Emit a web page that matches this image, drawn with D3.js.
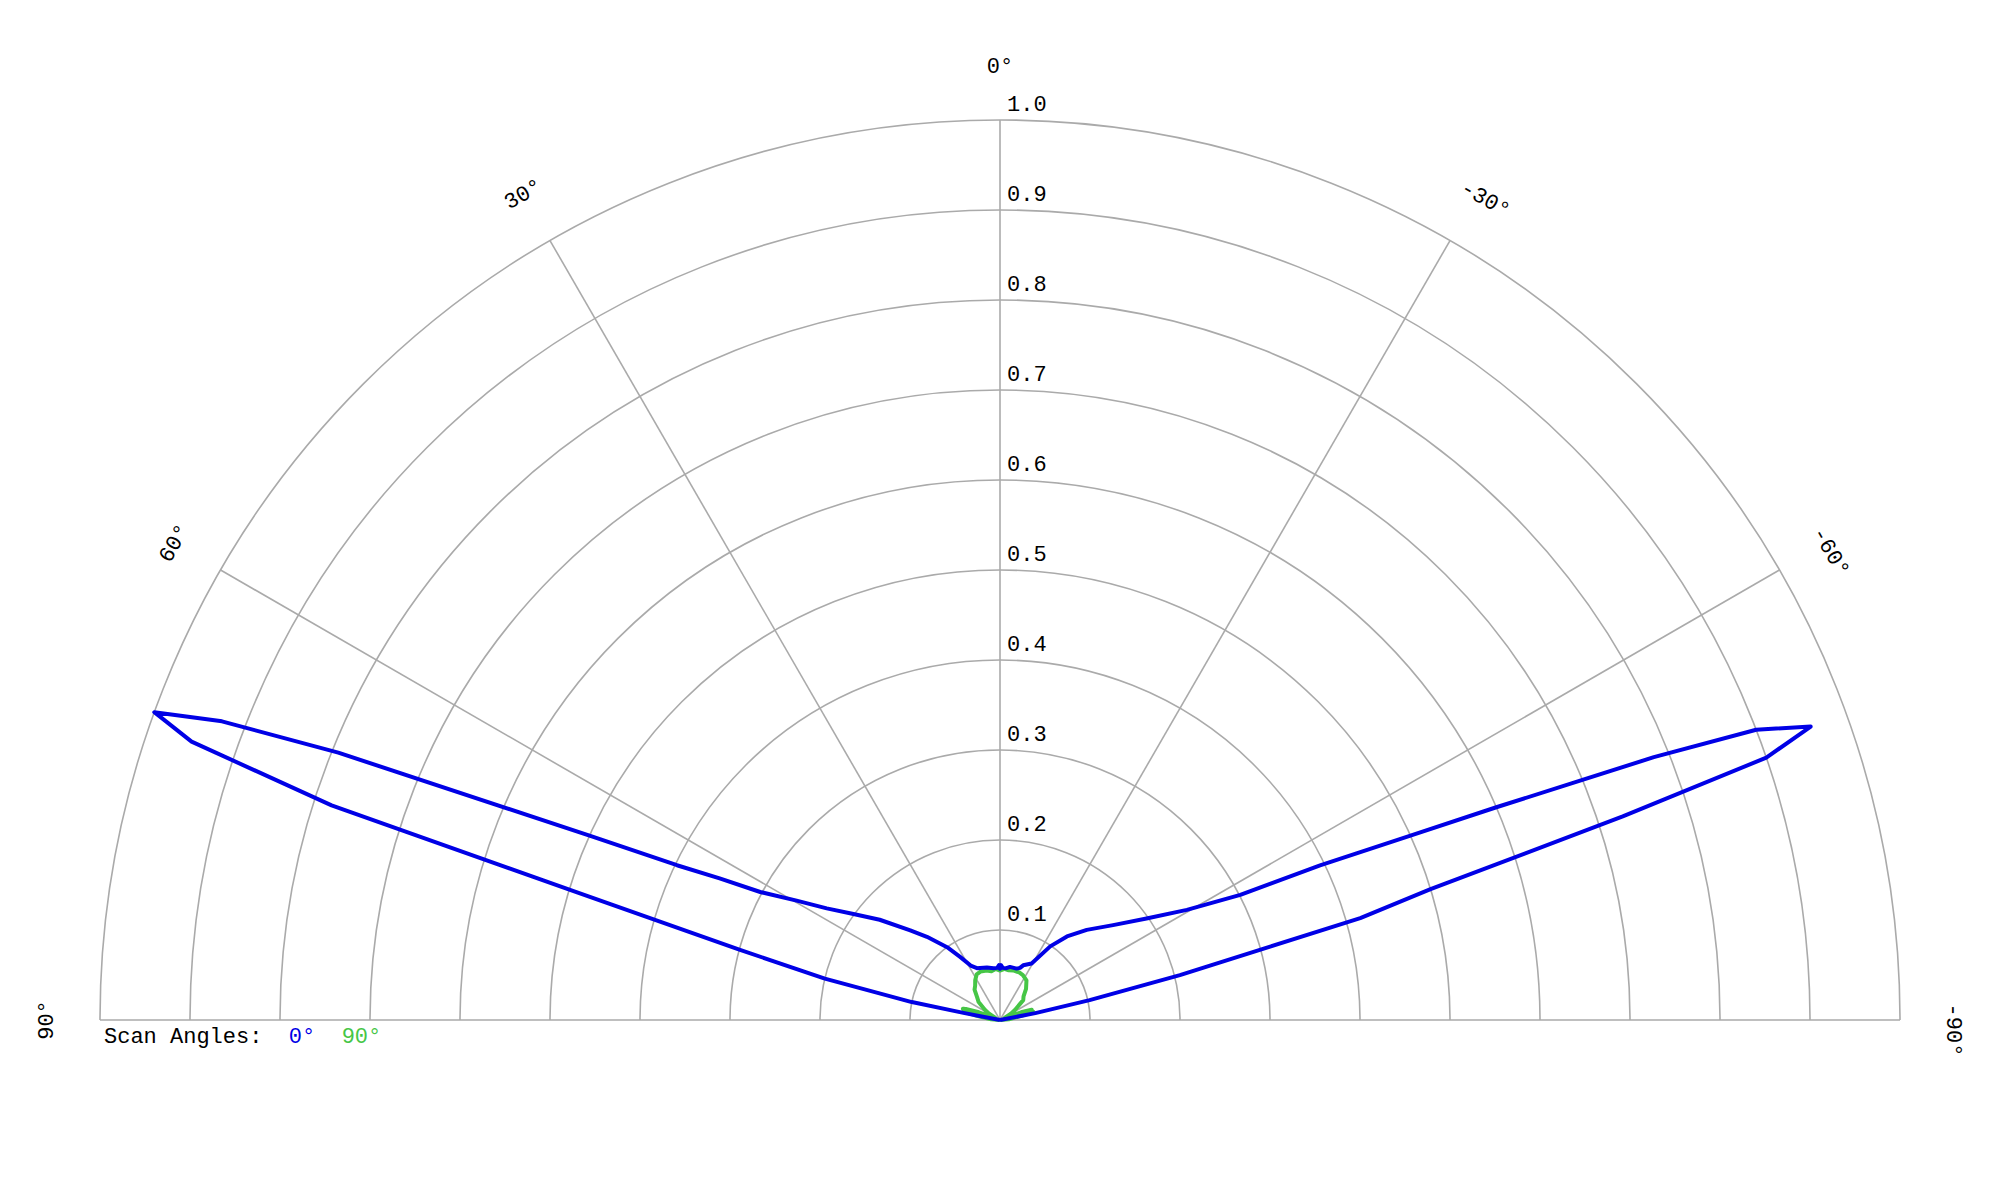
<!DOCTYPE html>
<html>
<head>
<meta charset="utf-8">
<script src="https://cdn.jsdelivr.net/npm/d3@7"></script>
<style>
  html, body { margin: 0; padding: 0; background: #fff; }
  svg { display: block; }
  text { font-family: "Liberation Mono", "DejaVu Sans Mono", monospace; font-size: 22px; fill: #000; }
</style>
</head>
<body>
<svg id="chart" width="2000" height="1200"></svg>
<script>
// ---- data ----
const radialTicks = [0.1, 0.2, 0.3, 0.4, 0.5, 0.6, 0.7, 0.8, 0.9, 1.0];
const angleTicks = [90, 60, 30, 0, -30, -60, -90];

// Scan angle 0° (blue): angle in degrees (positive = left), normalised value
const scan0Angles = [90, 82, 79, 78.5, 77.3, 76.7, 74.9, 73.2, 72.2, 71, 70, 69, 68, 65.8, 64.4, 63.2, 61.9, 59.6, 57.2, 54.1, 50.2, 45, 41.3, 36, 32.3, 28, 24, 21, 14, 7, 3, 1, 0, -1, -3, -7, -10.6, -17.9, -21, -23, -29.2, -34.3, -38.7, -43.9, -50, -55.3, -59.5, -62.5, -64.2, -65.8, -66.8, -67.6, -68.1, -69, -70.1, -71.1, -71.9, -73.1, -74.2, -74.8, -76, -77.5, -79, -82, -90];
const scan0Values = [0, 0, 0.04, 0.10, 0.152, 0.20, 0.30, 0.49, 0.78, 0.95, 1.0, 0.926, 0.793, 0.50, 0.398, 0.349, 0.302, 0.262, 0.229, 0.201, 0.174, 0.141, 0.123, 0.10, 0.083, 0.068, 0.063, 0.062, 0.06, 0.058, 0.058, 0.061, 0.057, 0.061, 0.058, 0.058, 0.06, 0.06, 0.062, 0.066, 0.072, 0.099, 0.119, 0.139, 0.164, 0.198, 0.241, 0.301, 0.395, 0.50, 0.60, 0.70, 0.783, 0.90, 0.958, 0.90, 0.728, 0.50, 0.416, 0.311, 0.206, 0.102, 0.04, 0, 0];

// Scan angle 90° (green)
const scan90Angles = [90, 85, 80, 78, 76, 75, 74, 73, 72, 70, 68, 65, 60, 56, 50, 45, 40, 36, 32, 27, 22, 15, 10, 5, 0, -5, -10, -15, -22, -27, -33.7, -40, -45, -49.4, -56, -60, -65, -68, -70, -72, -72.5, -74, -76, -78, -80, -85, -90];
const scan90Values = [0, 0.01, 0.025, 0.035, 0.04, 0.042, 0.038, 0.043, 0.04, 0.025, 0.008, 0.006, 0.014, 0.02, 0.031, 0.036, 0.044, 0.047, 0.052, 0.057, 0.058, 0.057, 0.055, 0.057, 0.055, 0.057, 0.056, 0.057, 0.057, 0.056, 0.053, 0.045, 0.037, 0.034, 0.02, 0.014, 0.006, 0.008, 0.025, 0.037, 0.037, 0.035, 0.038, 0.03, 0.02, 0.01, 0];

const seriesNames = ["0°", "90°"];
const seriesColors = ["#0000e6", "#46c646"];

// ---- layout ----
const cx = 1000, cy = 1020, R = 900;
const svg = d3.select("#chart");
const g = svg.append("g").attr("transform", `translate(${cx},${cy})`);

const r = d3.scaleLinear().domain([0, 1]).range([0, R]);
const toRad = d => -d * Math.PI / 180; // positive angles go counter-clockwise (left)

// rings (semicircles)
const arc = d3.arc().startAngle(-Math.PI / 2).endAngle(Math.PI / 2);
g.selectAll("path.ring").data(radialTicks).enter().append("path")
  .attr("class", "ring")
  .attr("d", d => arc({innerRadius: r(d), outerRadius: r(d)}))
  .attr("fill", "none").attr("stroke", "#aaa").attr("stroke-width", 1.6);

// spokes
g.selectAll("line.spoke").data(angleTicks).enter().append("line")
  .attr("class", "spoke")
  .attr("x1", 0).attr("y1", 0)
  .attr("x2", d => r(1) * Math.sin(toRad(d)))
  .attr("y2", d => -r(1) * Math.cos(toRad(d)))
  .attr("stroke", "#aaa").attr("stroke-width", 1.6);

// radial labels
g.selectAll("text.rlab").data(radialTicks).enter().append("text")
  .attr("class", "rlab")
  .attr("x", 7).attr("y", d => -r(d) - 9)
  .text(d => d.toFixed(1));

// angle labels
g.selectAll("text.alab").data(angleTicks).enter().append("text")
  .attr("class", "alab")
  .attr("text-anchor", "middle")
  .attr("transform", d => `rotate(${-d}) translate(${d < 0 ? 10 : 0},${-(R + 47)})`)
  .text(d => d + "°");

// curves
const line = d3.lineRadial().curve(d3.curveLinear);
const series = [
  {angles: scan0Angles, values: scan0Values, color: seriesColors[0], width: 4},
  {angles: scan90Angles, values: scan90Values, color: seriesColors[1], width: 4}
];
series.slice().reverse().forEach(s => {
  const pts = s.angles.map((a, i) => [toRad(a), r(s.values[i])]);
  g.append("path")
    .attr("d", line(pts))
    .attr("fill", "none")
    .attr("stroke", s.color)
    .attr("stroke-width", s.width)
    .attr("stroke-linejoin", "round");
});

// legend
const legend = svg.append("text").attr("x", 104).attr("y", 1043).style("white-space", "pre");
legend.append("tspan").text("Scan Angles:  ");
seriesNames.forEach((n, i) => {
  legend.append("tspan").attr("fill", seriesColors[i]).style("fill", seriesColors[i]).text(n + (i < seriesNames.length - 1 ? "  " : ""));
});
</script>
</body>
</html>
